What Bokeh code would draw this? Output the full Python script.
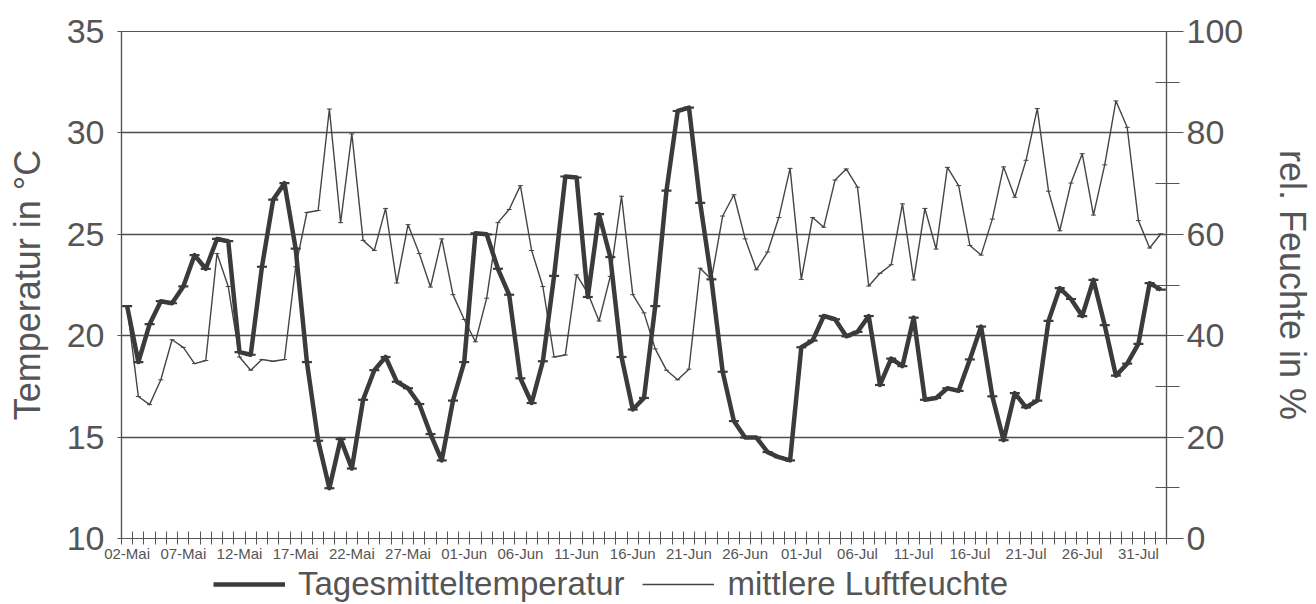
from bokeh.plotting import figure
from bokeh.layouts import column
from bokeh.models import Range1d, LinearAxis, FixedTicker, Legend, LegendItem
from bokeh.embed import file_html
from bokeh.resources import INLINE

# ---- data ----
date_labels = ["02-Mai", "07-Mai", "12-Mai", "17-Mai", "22-Mai", "27-Mai", "01-Jun",
               "06-Jun", "11-Jun", "16-Jun", "21-Jun", "26-Jun", "01-Jul", "06-Jul",
               "11-Jul", "16-Jul", "21-Jul", "26-Jul", "31-Jul"]

temperature = [21.46, 18.7, 20.57, 21.7, 21.6, 22.43, 23.97, 23.3, 24.77, 24.66,
               19.19, 19.06, 23.4, 26.71, 27.52, 24.29, 18.7, 14.82, 12.48, 14.9,
               13.45, 16.84, 18.3, 18.95, 17.73, 17.41, 16.63, 15.15, 13.85, 16.8,
               18.7, 25.05, 25.0, 23.3, 22.02, 17.9, 16.68, 18.74, 22.95, 27.85,
               27.8, 21.91, 25.99, 23.88, 18.95, 16.36, 16.93, 21.46, 27.15, 31.08,
               31.25, 26.55, 22.78, 18.22, 15.79, 14.98, 14.98, 14.26, 14.01, 13.85,
               19.43, 19.76, 20.97, 20.81, 19.97, 20.19, 20.97, 17.57, 18.87, 18.5,
               20.89, 16.84, 16.93, 17.41, 17.28, 18.83, 20.45, 17.01, 14.85, 17.17,
               16.47, 16.8, 20.73, 22.35, 21.81, 20.97, 22.75, 20.52, 18.03, 18.62,
               19.6, 22.59, 22.27]

humidity = [45.8, 28.0, 26.4, 31.3, 39.2, 37.7, 34.5, 35.1, 56.2, 49.7,
            35.8, 33.2, 35.3, 34.95, 35.3, 53.6, 64.3, 64.7, 84.7, 62.3,
            79.8, 58.8, 56.8, 65.1, 50.4, 61.9, 56.2, 49.6, 59.1, 48.1,
            43.2, 38.8, 47.4, 62.3, 64.9, 69.6, 56.8, 49.7, 35.8, 36.2,
            52.0, 48.4, 42.9, 51.7, 67.5, 48.1, 44.5, 37.4, 33.2, 31.3,
            33.4, 53.3, 51.1, 63.6, 67.8, 59.1, 53.0, 56.5, 63.3, 73.0,
            51.1, 63.3, 61.4, 70.7, 72.9, 69.3, 49.8, 52.3, 54.0, 66.0,
            51.0, 65.1, 57.1, 73.2, 69.6, 57.8, 55.9, 63.0, 73.3, 67.3,
            74.6, 84.8, 68.5, 60.7, 70.1, 75.9, 63.8, 73.7, 86.3, 81.1,
            62.7, 57.3, 60.1]

series_names = ["Tagesmitteltemperatur", "mittlere Luftfeuchte"]

day = list(range(len(temperature)))
label_every = 5

TXT = "#555555"
LINE = "#3b3b3b"
THIN = "#454545"
FONT = "Liberation Sans"

p = figure(width=1316, height=564,
           x_range=Range1d(-0.5, len(day) - 0.5), y_range=Range1d(10, 35),
           output_backend="svg", toolbar_location=None,
           min_border_left=121, min_border_right=147,
           min_border_top=31, min_border_bottom=18)
p.background_fill_color = "white"
p.border_fill_color = "white"
p.outline_line_color = "#555555"
p.outline_line_width = 1.2

p.extra_y_ranges = {"hum": Range1d(0, 100)}

# lines
p.line(day, humidity, y_range_name="hum", line_color=THIN,
       line_width=1.4, line_join="round")
p.scatter(day, humidity, y_range_name="hum", marker="dash", size=5,
          line_color=THIN, line_width=1)
p.line(day, temperature, line_color=LINE, line_width=4.5, line_join="round")
p.scatter(day, temperature, marker="dash", size=10, line_color=LINE, line_width=2.2)

# grid
p.xgrid.visible = False
p.ygrid.ticker = FixedTicker(ticks=[15, 20, 25, 30])
p.ygrid.grid_line_color = "#4d4d4d"
p.ygrid.grid_line_width = 1.3

# left axis
ya = p.yaxis[0]
ya.ticker = FixedTicker(ticks=[10, 15, 20, 25, 30, 35])
ya.axis_label = "Temperatur in °C"
ya.axis_label_text_font = FONT
ya.axis_label_text_font_size = "36px"
ya.axis_label_text_font_style = "normal"
ya.axis_label_text_color = TXT
ya.axis_label_standoff = 16
ya.major_label_text_font = FONT
ya.major_label_text_font_size = "34px"
ya.major_label_text_color = TXT
ya.major_label_standoff = 13
ya.major_tick_out = 4
ya.major_tick_in = 0
ya.minor_tick_out = 0
ya.minor_tick_in = 0
ya.axis_line_color = "#555555"
ya.axis_line_width = 1.2
ya.major_tick_line_color = "#555555"

# right axis
ra = LinearAxis(y_range_name="hum",
                ticker=FixedTicker(ticks=[0, 20, 40, 60, 80, 100],
                                   minor_ticks=[10, 30, 50, 70, 90]))
ra.axis_label = "rel. Feuchte in %"
ra.axis_label_text_font = FONT
ra.axis_label_text_font_size = "36px"
ra.axis_label_text_font_style = "normal"
ra.axis_label_text_color = TXT
ra.axis_label_standoff = 26
ra.major_label_text_font = FONT
ra.major_label_text_font_size = "34px"
ra.major_label_text_color = TXT
ra.major_label_standoff = 3
ra.major_tick_out = 17
ra.major_tick_in = 0
ra.minor_tick_out = 13
ra.minor_tick_in = 11
ra.axis_line_color = "#555555"
ra.axis_line_width = 1.2
ra.major_tick_line_color = "#555555"
ra.minor_tick_line_color = "#555555"
p.add_layout(ra, "right")

# bottom axis
xa = p.xaxis[0]
label_pos = list(range(0, len(date_labels) * label_every, label_every))
xa.ticker = FixedTicker(ticks=label_pos,
                        minor_ticks=[i + 0.5 for i in range(-1, len(day))])
xa.major_label_overrides = {pos: lab for pos, lab in zip(label_pos, date_labels)}
xa.major_label_text_font = FONT
xa.major_label_text_font_size = "15px"
xa.major_label_text_color = TXT
xa.major_label_standoff = 0
xa.major_tick_in = 0
xa.major_tick_out = 0
xa.minor_tick_in = 7
xa.minor_tick_out = 6
xa.minor_tick_line_color = "#555555"
xa.axis_line_color = "#555555"
xa.axis_line_width = 1.2

# legend strip below the chart (its series are kept outside the visible range)
lg = figure(width=1316, height=40, x_range=Range1d(-0.5, len(day) - 0.5),
            y_range=Range1d(-200, -199),
            x_axis_type=None, y_axis_type=None, output_backend="svg",
            toolbar_location=None, min_border=0)
lg.outline_line_color = None
lg.background_fill_color = "white"
lg.border_fill_color = "white"
lg.grid.visible = False
r1 = lg.line(day, temperature, line_color=LINE, line_width=4.5)
r2 = lg.line(day, humidity, line_color=THIN, line_width=1.4)
r2m = lg.scatter(day, humidity, marker="dash", size=5, line_color=THIN, line_width=1)
legend = Legend(items=[LegendItem(label=series_names[0], renderers=[r1]),
                       LegendItem(label=series_names[1], renderers=[r2, r2m])],
                orientation="horizontal", location=(92, 1),
                glyph_width=72, glyph_height=20, label_standoff=13, spacing=18,
                padding=0, margin=0, border_line_color=None,
                background_fill_alpha=0,
                label_text_font=FONT, label_text_font_size="33px",
                label_text_color=TXT)
lg.add_layout(legend)

layout = column(p, lg, spacing=0)
open("out.html", "w").write(file_html(layout, INLINE))
